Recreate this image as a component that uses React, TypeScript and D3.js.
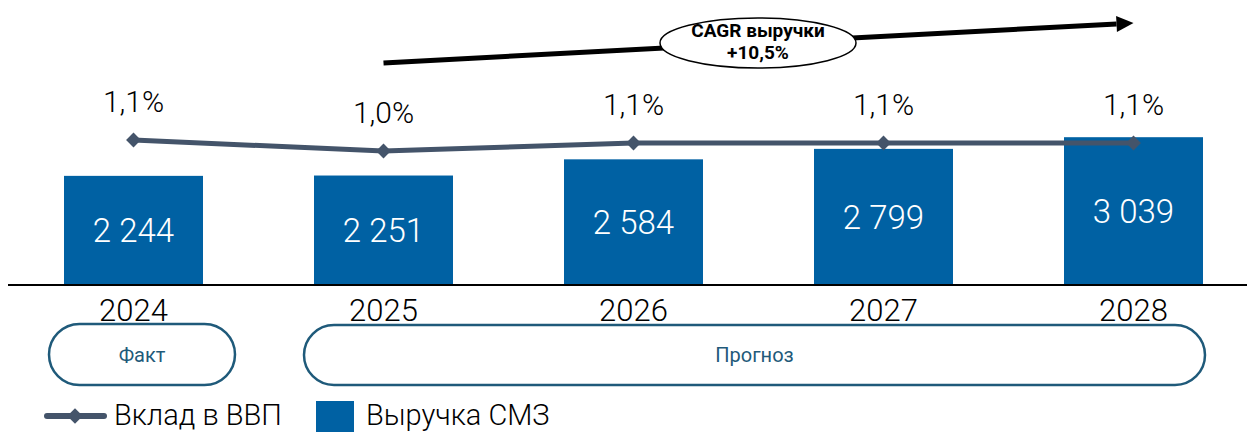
import React, { useEffect, useRef } from "react";
import * as d3 from "d3";

const years = ["2024", "2025", "2026", "2027", "2028"];
const revenue = [2244, 2251, 2584, 2799, 3039];
const gdpShare = [1.13, 1.02, 1.1, 1.1, 1.1];
const gdpLabels = ["1,1%", "1,0%", "1,1%", "1,1%", "1,1%"];
const revenueLabels = ["2 244", "2 251", "2 584", "2 799", "3 039"];
const cagrLines = ["CAGR выручки", "+10,5%"];
const periodLabels = ["Факт", "Прогноз"];
const legendLabels = ["Вклад в ВВП", "Выручка СМЗ"];

const W = 1247;
const H = 432;
const BAR = "#0061a3";
const LINE = "#44546a";
const PILL = "#1f5a7a";
const FONT = "Roboto, 'DejaVu Sans', sans-serif";

function App() {
  const ref = useRef<SVGSVGElement>(null);

  useEffect(() => {
    const svg = d3.select(ref.current);
    svg.selectAll("*").remove();

    const base = 285;
    const x = d3.scaleBand().domain(years).range([8.5, 1258.5]).paddingInner(0.444).paddingOuter(0.222);
    const y = d3.scaleLinear().domain([0, 5860]).range([base, 0]);
    const y2 = d3.scaleLinear().domain([1.0, 1.13]).range([153, 140]);
    const cx = (d: string) => (x(d) as number) + x.bandwidth() / 2;

    // bars
    svg.append("g").selectAll("rect").data(revenue).join("rect")
      .attr("x", (_, i) => x(years[i]) as number)
      .attr("y", d => y(d))
      .attr("width", x.bandwidth())
      .attr("height", d => base - y(d))
      .attr("fill", BAR);

    svg.append("g").selectAll("text").data(revenue).join("text")
      .attr("x", (_, i) => cx(years[i]))
      .attr("y", d => (y(d) + base) / 2)
      .attr("dy", "0.36em")
      .attr("text-anchor", "middle")
      .attr("fill", "#fff")
      .attr("font-family", FONT)
      .attr("font-weight", 300)
      .attr("font-size", 33)
      .text((_, i) => revenueLabels[i]);

    // axis line
    svg.append("line").attr("x1", 8).attr("x2", W).attr("y1", base).attr("y2", base)
      .attr("stroke", "#000").attr("stroke-width", 2);

    svg.append("g").selectAll("text").data(years).join("text")
      .attr("x", d => cx(d))
      .attr("y", 321)
      .attr("text-anchor", "middle")
      .attr("font-family", FONT)
      .attr("font-weight", 300)
      .attr("font-size", 31)
      .attr("fill", "#000")
      .text(d => d);

    // line series
    const line = d3.line<number>().x((_, i) => cx(years[i])).y(d => y2(d));
    svg.append("path").datum(gdpShare).attr("d", line)
      .attr("fill", "none").attr("stroke", LINE).attr("stroke-width", 5);

    svg.append("g").selectAll("path").data(gdpShare).join("path")
      .attr("d", d3.symbol(d3.symbolSquare, 110)())
      .attr("transform", (d, i) => `translate(${cx(years[i])},${y2(d)}) rotate(45)`)
      .attr("fill", LINE);

    svg.append("g").selectAll("text").data(gdpShare).join("text")
      .attr("x", (_, i) => cx(years[i]))
      .attr("y", d => y2(d) - 28)
      .attr("text-anchor", "middle")
      .attr("font-family", FONT)
      .attr("font-weight", 300)
      .attr("font-size", 30)
      .attr("fill", "#000")
      .text((_, i) => gdpLabels[i]);

    // CAGR arrow
    const ax0 = cx(years[1]), ay0 = 63;
    const ax1 = cx(years[4]), ay1 = 23;
    const ang = Math.atan2(ay1 - ay0, ax1 - ax0);
    const hl = 17;
    const bx = ax1 - hl * Math.cos(ang), by = ay1 - hl * Math.sin(ang);
    svg.append("line").attr("x1", ax0).attr("y1", ay0).attr("x2", bx).attr("y2", by)
      .attr("stroke", "#000").attr("stroke-width", 5);
    const nx = -Math.sin(ang) * 8, ny = Math.cos(ang) * 8;
    svg.append("path")
      .attr("d", `M${ax1},${ay1}L${bx + nx},${by + ny}L${bx - nx},${by - ny}Z`)
      .attr("fill", "#000");

    svg.append("ellipse").attr("cx", 758).attr("cy", 43).attr("rx", 98).attr("ry", 25)
      .attr("fill", "#fff").attr("stroke", "#000").attr("stroke-width", 1.5);
    svg.append("g").selectAll("text").data(cagrLines).join("text")
      .attr("x", 758)
      .attr("y", (_, i) => 37 + i * 22)
      .attr("text-anchor", "middle")
      .attr("font-family", FONT)
      .attr("font-weight", 700)
      .attr("font-size", 19)
      .attr("fill", "#000")
      .text(d => d);

    // period pills
    const pills = [
      { x0: 49, x1: 235, y0: 324, y1: 385 },
      { x0: 304, x1: 1205, y0: 325, y1: 385 },
    ];
    const pg = svg.append("g");
    pg.selectAll("rect").data(pills).join("rect")
      .attr("x", d => d.x0).attr("y", d => d.y0)
      .attr("width", d => d.x1 - d.x0).attr("height", d => d.y1 - d.y0)
      .attr("rx", d => (d.y1 - d.y0) / 2)
      .attr("fill", "#fff").attr("stroke", PILL).attr("stroke-width", 2.5);
    pg.selectAll("text").data(pills).join("text")
      .attr("x", d => (d.x0 + d.x1) / 2)
      .attr("y", d => (d.y0 + d.y1) / 2)
      .attr("dy", "0.36em")
      .attr("text-anchor", "middle")
      .attr("font-family", FONT)
      .attr("font-size", 20)
      .attr("fill", PILL)
      .text((_, i) => periodLabels[i]);

    // legend
    const lg = svg.append("g");
    lg.append("line").attr("x1", 47).attr("x2", 104).attr("y1", 416).attr("y2", 416)
      .attr("stroke", LINE).attr("stroke-width", 6).attr("stroke-linecap", "round");
    lg.append("path").attr("d", d3.symbol(d3.symbolSquare, 120)())
      .attr("transform", "translate(75,416) rotate(45)").attr("fill", LINE);
    lg.append("text").attr("x", 114).attr("y", 425)
      .attr("font-family", FONT).attr("font-weight", 300).attr("font-size", 29).attr("fill", "#000")
      .text(legendLabels[0]);
    lg.append("rect").attr("x", 316).attr("y", 401).attr("width", 38).attr("height", 34).attr("fill", BAR);
    lg.append("text").attr("x", 366).attr("y", 425)
      .attr("font-family", FONT).attr("font-weight", 300).attr("font-size", 29).attr("fill", "#000")
      .text(legendLabels[1]);
  }, []);

  return (
    <svg ref={ref} width={W} height={H} style={{ display: "block", position: "absolute", left: 0, top: 0 }} />
  );
}

export default App;
